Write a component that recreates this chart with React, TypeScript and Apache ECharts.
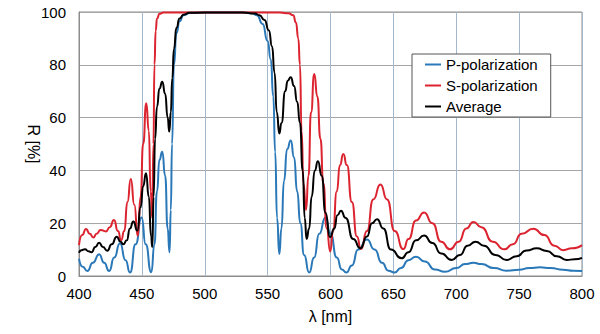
import React, { useEffect, useRef } from "react";
import * as echarts from "echarts";

const xTicks = [400, 450, 500, 550, 600, 650, 700, 750, 800];
const yTicks = [0, 20, 40, 60, 80, 100];

const pLambda = [400, 403, 406.6, 411, 416, 420, 424, 428, 432.6, 437, 440.6, 445, 449.8, 453, 457.5, 460, 462, 464, 466.2, 468.5, 470.5, 472, 473, 474, 475.5, 477.5, 480, 483, 488, 500, 530, 538, 541.5, 546, 550, 552.5, 554.5, 556, 557.5, 559.3, 561, 563, 565.5, 568.4, 571, 573.5, 576, 579, 583, 587, 591, 596, 600, 605, 609, 612.6, 617, 622, 629, 635, 641, 646, 651, 656, 662, 668, 675, 683, 691, 700, 707, 713.6, 720, 730, 740, 750, 758, 766.6, 775, 785, 793, 800];
const pR = [6.5, 3.5, 1.9, 5, 8.2, 5, 1.9, 7, 12.4, 6, 1.3, 12, 22.2, 12, 1.4, 12, 32, 44, 47.1, 38, 18, 9, 25, 50, 80, 92, 96.5, 98.8, 99.6, 99.8, 99.8, 99.5, 98.8, 95.5, 89, 82, 68, 47, 22, 8.3, 18, 36, 48, 51.3, 45, 32, 20, 8, 1.3, 7, 16, 22.2, 16, 7, 2.5, 1.3, 4, 10, 13.8, 10, 5, 2, 1.3, 3, 6, 7.3, 5.5, 2.5, 1.6, 3, 4.5, 5, 4.5, 3, 2, 2.4, 3, 3.3, 3, 2.4, 2, 1.9];

const sLambda = [400, 402.5, 405.6, 408.5, 411.4, 414, 417.2, 421.5, 424.5, 427.8, 431, 433.5, 436, 438.5, 441.2, 444, 446.7, 449, 451, 453.5, 455.5, 457, 458.2, 459.2, 460, 461, 462, 464, 467, 500, 560, 566.5, 570.4, 572.5, 574.4, 575.7, 577, 578.5, 580.5, 582.5, 584.5, 587.1, 589.5, 592, 594.3, 597, 599.8, 602, 605, 607.5, 610.2, 613, 617, 621, 624.2, 629, 634, 639.7, 645, 651, 658, 662, 668, 674.4, 681, 688, 695, 702, 708, 713.6, 720, 729, 738.2, 745, 752, 761.3, 770, 778, 785.1, 792, 800];
const sR = [11.7, 15.5, 17.8, 16, 14.6, 16, 17.4, 16.9, 18.5, 21.2, 17, 13.5, 17, 28, 36.7, 27, 15.2, 30, 50, 65.4, 55, 32, 22, 50, 80, 93, 97.5, 99.3, 99.8, 99.8, 99.8, 99.5, 98.8, 96, 90, 80, 55, 35, 25, 38, 62, 76.5, 68, 52, 35, 18, 9.3, 17, 32, 42, 46.2, 42, 28, 15, 10.2, 17, 29, 34.7, 29, 17, 10.2, 14, 21, 24.1, 20, 13, 10.1, 13, 18, 20.5, 18.5, 13, 10.1, 12, 16, 17.9, 15.5, 11.5, 9.8, 10.5, 11.7];

const aLambda = [400, 402, 404.8, 407.5, 410, 413, 416, 419, 422.5, 426, 430, 433, 435.2, 438, 440.5, 443.2, 446.4, 449, 451, 453.3, 455.5, 457.3, 458.3, 459.3, 460.5, 462, 464, 466.2, 468.5, 470.5, 471.8, 473, 474.2, 475.5, 477.5, 480, 483, 488, 500, 530, 540, 543.5, 547.5, 551, 553.5, 555.5, 557.3, 559.3, 561, 564, 566, 568.4, 571, 573.5, 575.7, 577.9, 579.5, 581, 583, 585, 587.5, 590, 593, 596, 599.6, 603, 605.5, 608.3, 612, 618, 623.8, 629, 633, 637, 642, 648, 656.6, 662, 668, 674.4, 681, 688, 696.4, 703, 709, 715.4, 722, 731, 740.1, 748, 756, 764, 772, 780, 787.8, 794, 800];
const aR = [8.8, 9.8, 10.1, 9.4, 9, 11, 12.6, 11, 9.6, 12, 14.9, 13, 12, 13.5, 18, 20.6, 17.2, 26, 34, 38.9, 30, 15, 11, 30, 52, 64, 71, 73.6, 69, 60, 54.7, 62, 75, 86, 94, 97.5, 99, 99.7, 99.8, 99.8, 99.4, 98.8, 97, 93, 87, 77, 62, 54, 58, 70, 74, 75.3, 72, 66, 58, 40, 22, 14, 18, 30, 40, 43.5, 38, 24, 14.7, 18, 23, 24.7, 22, 14, 10.5, 15, 20, 21.5, 18, 10, 6.7, 9, 13.5, 15.3, 12.5, 8.5, 6.1, 8, 11.5, 13, 11.5, 8, 6.1, 7.5, 9.7, 10.5, 9.5, 7.5, 6.1, 6.3, 6.9];

const seriesNames = ["P-polarization", "S-polarization", "Average"];
const seriesColors = ["#2a78b8", "#dc2430", "#000000"];

const zip = (xs: number[], ys: number[]) => xs.map((x, i) => [x, ys[i]]);

const FONT = "'Liberation Sans', Arial, sans-serif";

export default function App() {
  const ref = useRef<HTMLDivElement>(null);
  useEffect(() => {
    if (!ref.current) return;
    const chart = echarts.init(ref.current, undefined, { renderer: "svg" });
    const datasets = [zip(pLambda, pR), zip(sLambda, sR), zip(aLambda, aR)];
    chart.setOption({
      animation: false,
      backgroundColor: "#ffffff",
      textStyle: { fontFamily: FONT },
      grid: {
        left: 79,
        right: 18,
        top: 12,
        bottom: 58,
        show: true,
        borderColor: "#8c8c8c",
        borderWidth: 1,
      },
      legend: {
        orient: "vertical",
        left: 412,
        top: 54,
        backgroundColor: "#ffffff",
        borderColor: "#555555",
        borderWidth: 1,
        borderRadius: 0,
        padding: [3, 13, 3, 13],
        itemGap: 6,
        itemWidth: 16,
        itemHeight: 2,
        itemTextGap: 2,
        icon: "rect",
        data: seriesNames,
        textStyle: { fontSize: 15, color: "#000", fontFamily: FONT, lineHeight: 15 },
      },
      xAxis: {
        type: "value",
        min: xTicks[0],
        max: xTicks[xTicks.length - 1],
        interval: xTicks[1] - xTicks[0],
        name: "λ [nm]",
        nameLocation: "middle",
        nameGap: 32,
        nameMoveOverlap: false,
        nameTextStyle: { fontSize: 16, color: "#000", fontFamily: FONT },
        axisLine: { show: true, lineStyle: { color: "#8c8c8c", width: 1 } },
        axisTick: { show: false },
        axisLabel: { fontSize: 15, color: "#000", margin: 10, fontFamily: FONT },
        splitLine: { show: true, lineStyle: { color: "#a3b8cc", width: 1 } },
      },
      yAxis: {
        type: "value",
        min: yTicks[0],
        max: yTicks[yTicks.length - 1],
        interval: yTicks[1] - yTicks[0],
        name: "R [%]",
        nameLocation: "middle",
        nameRotate: -90,
        nameGap: 38,
        nameMoveOverlap: false,
        nameTextStyle: { fontSize: 16, color: "#000", fontFamily: FONT },
        axisLine: { show: true, lineStyle: { color: "#8c8c8c", width: 1 } },
        axisTick: { show: false },
        axisLabel: { fontSize: 15, color: "#000", margin: 13, fontFamily: FONT },
        splitLine: { show: true, lineStyle: { color: "#a6a6a6", width: 1 } },
      },
      series: datasets.map((d, i) => ({
        name: seriesNames[i],
        type: "line",
        data: d,
        showSymbol: false,
        symbol: "none",
        smooth: 0.6,
        smoothMonotone: "x",
        color: seriesColors[i],
        lineStyle: { color: seriesColors[i], width: 2 },
        z: 2 + i,
      })),
    });
    return () => chart.dispose();
  }, []);
  return (
    <div
      ref={ref}
      style={{ position: "fixed", left: 0, top: 0, width: 600, height: 334, background: "#fff" }}
    />
  );
}
